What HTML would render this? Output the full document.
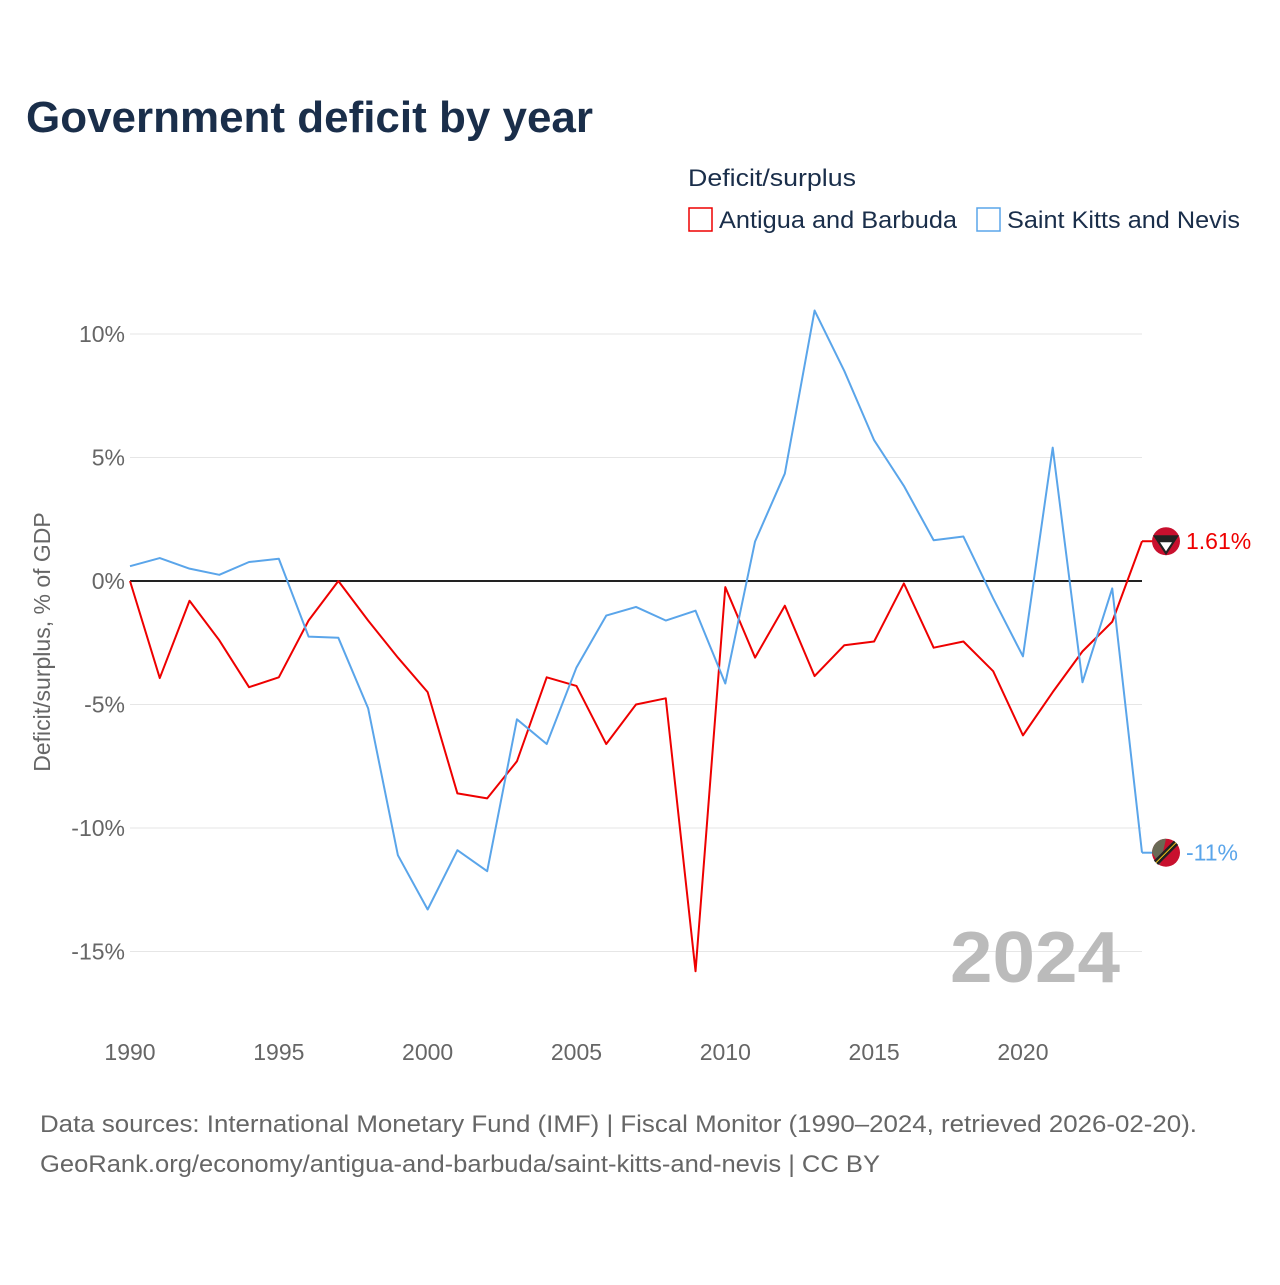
<!DOCTYPE html>
<html><head><meta charset="utf-8">
<style>
body{margin:0;background:#fff;font-family:"Liberation Sans",sans-serif;}
svg text{font-family:"Liberation Sans",sans-serif;}
</style></head>
<body>
<svg id="chart" width="1280" height="1280" viewBox="0 0 1280 1280" xmlns="http://www.w3.org/2000/svg">
<text x="26" y="132" font-size="44" font-weight="bold" fill="#1a2e4a" textLength="567" lengthAdjust="spacingAndGlyphs">Government deficit by year</text>
<text x="688" y="186" font-size="24" fill="#1a2e4a" textLength="168" lengthAdjust="spacingAndGlyphs">Deficit/surplus</text>
<g>
<rect x="689" y="208" width="23" height="23" fill="none" stroke="#ee0000" stroke-width="1.5"/>
<text x="719" y="228" font-size="24" fill="#1a2e4a" textLength="238" lengthAdjust="spacingAndGlyphs">Antigua and Barbuda</text></g>
<g>
<rect x="977" y="208" width="23" height="23" fill="none" stroke="#5aa5ea" stroke-width="1.5"/>
<text x="1007" y="228" font-size="24" fill="#1a2e4a" textLength="233" lengthAdjust="spacingAndGlyphs">Saint Kitts and Nevis</text></g>
<text transform="translate(50,642) rotate(-90)" text-anchor="middle" font-size="23" fill="#666">Deficit/surplus, % of GDP</text>
<g id="grid"></g><g id="series"></g>
<text x="1120" y="982" text-anchor="end" font-size="72" font-weight="bold" fill="#bbb" textLength="170" lengthAdjust="spacingAndGlyphs">2024</text>
<text x="40" y="1132" font-size="24" fill="#666" textLength="1157" lengthAdjust="spacingAndGlyphs">Data sources: International Monetary Fund (IMF) | Fiscal Monitor (1990–2024, retrieved 2026-02-20).</text>
<text x="40" y="1172" font-size="24" fill="#666" textLength="840" lengthAdjust="spacingAndGlyphs">GeoRank.org/economy/antigua-and-barbuda/saint-kitts-and-nevis | CC BY</text>
</svg>
<script>
const years=[];for(let y=1990;y<=2024;y++)years.push(y);
const antigua=[0,-3.93,-0.8,-2.4,-4.3,-3.9,-1.6,0,-1.6,-3.1,-4.5,-8.6,-8.8,-7.3,-3.9,-4.25,-6.6,-5.0,-4.75,-15.8,-0.25,-3.1,-1.0,-3.85,-2.6,-2.45,-0.1,-2.7,-2.45,-3.65,-6.25,-4.5,-2.85,-1.65,1.61];
const kitts=[0.6,0.93,0.5,0.25,0.77,0.9,-2.25,-2.3,-5.15,-11.1,-13.3,-10.9,-11.75,-5.6,-6.6,-3.5,-1.4,-1.05,-1.6,-1.2,-4.15,1.6,4.35,10.95,8.5,5.7,3.85,1.65,1.8,-0.7,-3.05,5.4,-4.1,-0.3,-11.0];
const yTicks=[10,5,0,-5,-10,-15];
const xTicks=[1990,1995,2000,2005,2010,2015,2020];
const endLabels=["1.61%","-11%"];
const X=y=>130+(y-1990)*(1142-130)/34;
const Y=v=>581-v*24.7;
const NS="http://www.w3.org/2000/svg";
function mk(t,a,p){const e=document.createElementNS(NS,t);for(const k in a)e.setAttribute(k,a[k]);p.appendChild(e);return e;}
const grid=document.getElementById('grid'),ser=document.getElementById('series');
yTicks.forEach(v=>{
 const l=mk('line',{x1:130,x2:1142,y1:Y(v),y2:Y(v),stroke:v===0?'#222':'#e6e6e6','stroke-width':v===0?2:1},grid);
 
 
 const t=mk('text',{x:125,y:Y(v)+8,'text-anchor':'end','font-size':23,fill:'#666'},grid);
 t.textContent=v+'%';
 
 
});
xTicks.forEach(y=>{
 const t=mk('text',{x:X(y),y:1060,'text-anchor':'middle','font-size':23,fill:'#666'},grid);
 t.textContent=y;
 
 
});
[[antigua,'#ee0000','antigua-line',endLabels[0]],[kitts,'#5aa5ea','saint-kitts-line',endLabels[1]]].forEach(([d,c,n,lab],i)=>{
 const p=mk('polyline',{points:d.map((v,j)=>X(years[j])+','+Y(v)).join(' '),fill:'none',stroke:c,'stroke-width':2,'stroke-linejoin':'round'},ser);
 
 
 const last=d[d.length-1],ly=Y(last);
 const s=mk('line',{x1:1142,x2:1154,y1:ly,y2:ly,stroke:c,'stroke-width':2},ser);
 
 
 const g=mk('g',{},ser);
 
 
 if(i===0){mk('circle',{cx:1166,cy:ly,r:14,fill:'#c8102e'},g);mk('path',{d:`M1153 ${ly-6} L1179 ${ly-6} L1166 ${ly+14} Z`,fill:'#222'},g);mk('path',{d:`M1160 ${ly+1} L1172 ${ly+1} L1166 ${ly+10} Z`,fill:'#fff'},g);}
 else{mk('circle',{cx:1166,cy:ly,r:14,fill:'#c8102e'},g);mk('path',{d:`M1152 ${ly} A14 14 0 0 1 1166 ${ly-14} L1160 ${ly+12} Z`,fill:'#6a6a55'},g);mk('line',{x1:1156,y1:ly+10,x2:1176,y2:ly-10,stroke:'#222','stroke-width':6},g);mk('line',{x1:1156,y1:ly+10,x2:1176,y2:ly-10,stroke:'#fcd116','stroke-width':1},g);}
 const t=mk('text',{x:1186,y:ly+8,'font-size':23,fill:c},ser);
 t.textContent=lab;
 
 
});
</script>
</body></html>
